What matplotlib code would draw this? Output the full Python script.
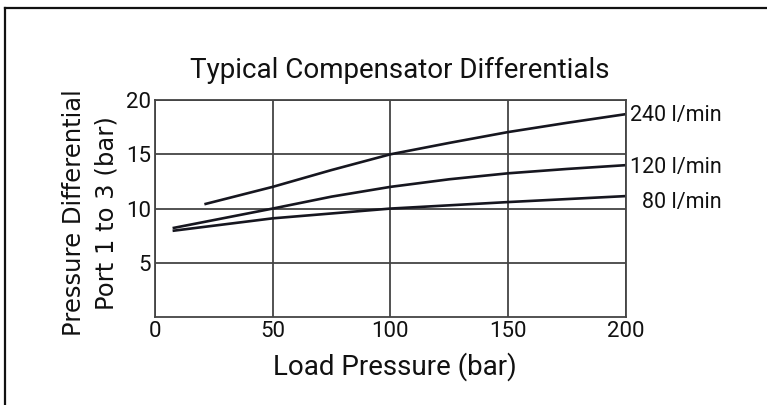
import matplotlib.pyplot as plt
from matplotlib.lines import Line2D

# curves (load pressure bar -> differential bar)
x240 = [21, 50, 75, 100, 125, 150, 175, 200]
y240 = [10.4, 12.0, 13.55, 15.0, 16.05, 17.05, 17.9, 18.7]
x120 = [7.5, 50, 75, 100, 125, 150, 175, 200]
y120 = [8.2, 10.0, 11.1, 12.0, 12.7, 13.25, 13.65, 14.0]
x80 = [7.5, 50, 100, 150, 200]
y80 = [7.95, 9.1, 10.0, 10.6, 11.15]
flow_labels = ["240 l/min", "120 l/min", "80 l/min"]

xticks = [0, 50, 100, 150, 200]
yticks = [5, 10, 15, 20]
ytick_labels = ["5", "10", "15", "20"]

narrow = ["Roboto", "DejaVu Sans"]
ink = "#16161f"
grid = "#444444"

fig = plt.figure(figsize=(7.67, 4.05), dpi=100)
ax = fig.add_axes([0.202, 0.217, 0.614, 0.536])

ax.plot(x240, y240, color=ink, lw=1.9, solid_capstyle="butt")
ax.plot(x120, y120, color=ink, lw=1.9, solid_capstyle="butt")
ax.plot(x80, y80, color=ink, lw=1.9, solid_capstyle="butt")

ax.set_xlim(0, 200)
ax.set_ylim(0, 20)
ax.set_xticks(xticks)
ax.set_yticks(yticks)
ax.set_yticklabels(ytick_labels)
ax.tick_params(length=0, pad=3, labelsize=16, colors="#111111")
for lab in ax.get_xticklabels() + ax.get_yticklabels():
    lab.set_family(narrow)
ax.grid(True, color=grid, lw=1.3)
for s in ax.spines.values():
    s.set_color(grid)
    s.set_linewidth(1.3)

ax.set_title("Typical Compensator Differentials", fontsize=20, family=narrow,
             color="#111111", pad=16, x=0.52)
ax.set_xlabel("Load Pressure (bar)", fontsize=20, family=narrow, color="#111111",
              labelpad=7, x=0.51)
ax.set_ylabel("Pressure Differential\nPort 1 to 3 (bar)", fontsize=17.5,
              color="#111111", linespacing=1.45, labelpad=5, y=0.48)

offsets = [-0.1, -0.25, -0.6]
for lab, ys, off in zip(flow_labels, [y240, y120, y80], offsets):
    ax.text(1.203, ys[-1] + off, lab, transform=ax.get_yaxis_transform(),
            ha="right", va="center", fontsize=15.5, family=narrow, color="#111111")

# frame around the picture: top and left edges only
fig.add_artist(Line2D([0.0065, 1.0], [0.98, 0.98], color="#111111", lw=1.6))
fig.add_artist(Line2D([0.0065, 0.0065], [0.0, 0.98], color="#111111", lw=1.6))

fig.savefig("out.png", dpi=100, facecolor="white")
